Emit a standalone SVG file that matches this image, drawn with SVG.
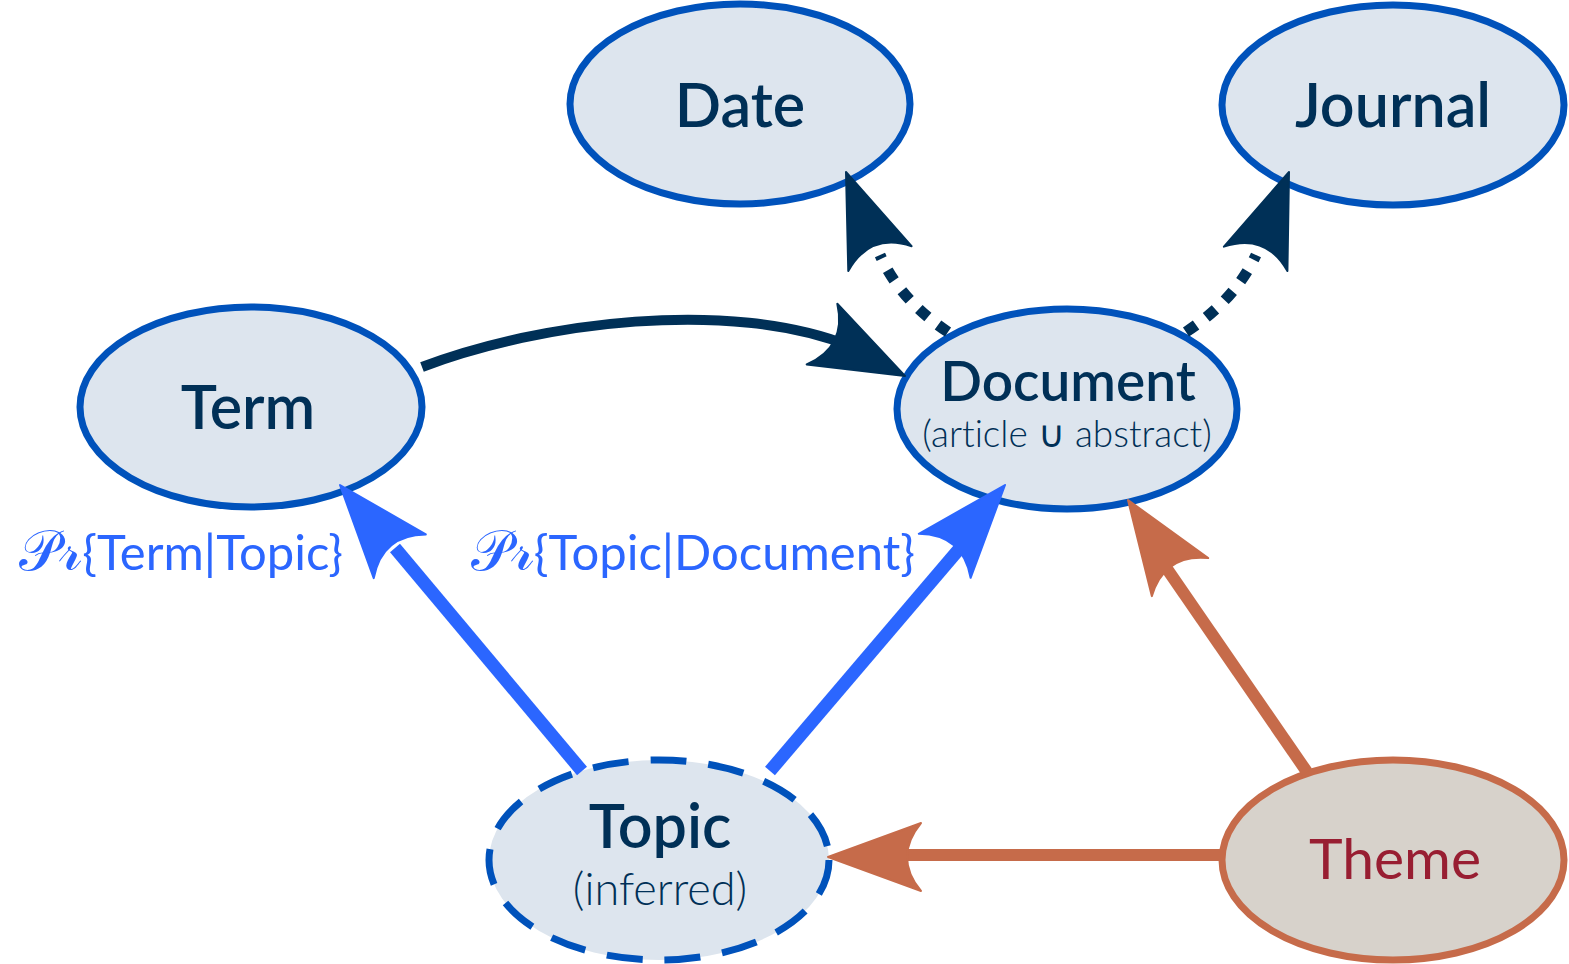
<svg xmlns="http://www.w3.org/2000/svg" width="1569" height="964" viewBox="0 0 1569 964">
<style>
.node{fill:#dde5ee;stroke:#0052bb;stroke-width:7}
.dashed{stroke-dasharray:36 22;stroke-width:7}
.theme{fill:#d7d2cb;stroke:#c66b4a;stroke-width:7}
text{font-variant-ligatures:none}
.lbl{font-family:Lato,"Open Sans",sans-serif;font-weight:600;fill:#003057;text-anchor:middle}
.sub{font-family:Lato,"Open Sans",sans-serif;font-weight:300;fill:#003057;text-anchor:middle}
.edgelbl{font-family:Lato,"Open Sans",sans-serif;font-size:49px;fill:#2b66ff;text-anchor:end}
.scr{font-family:"DejaVu Serif","DejaVu Sans","Noto Sans",serif;font-size:56px;font-weight:300}
.navy{fill:none;stroke:#003057;stroke-width:10}
.dots{fill:none;stroke:#003057;stroke-width:11;stroke-dasharray:12 13}
.blue{fill:none;stroke:#2b66ff;stroke-width:13}
.orange{fill:none;stroke:#c66b4a;stroke-width:12}
</style>
<defs>
<path id="ah" d="M0,0 L-93,-34 Q-65,0 -93,34 Z" stroke-linejoin="round"/>
</defs>
<g id="node-date"><ellipse class="node" cx="740" cy="104" rx="170" ry="100"/><text class="lbl" x="740" y="127" font-size="61">Date</text></g>
<g id="node-journal"><ellipse class="node" cx="1393" cy="105" rx="171" ry="100"/><text class="lbl" x="1393" y="127" font-size="61">Journal</text></g>
<g id="node-term"><ellipse class="node" cx="251" cy="407" rx="171" ry="100"/><text class="lbl" x="248" y="429" font-size="61">Term</text></g>
<g id="node-document"><ellipse class="node" cx="1067" cy="409" rx="170" ry="100"/><text class="lbl" x="1068" y="401" font-size="55">Document</text><text class="sub" x="1067" y="447" font-size="37">(article ∪ abstract)</text></g>
<g id="node-topic"><ellipse class="node dashed" cx="659" cy="860" rx="170" ry="100"/><text class="lbl" x="660" y="848" font-size="61">Topic</text><text class="sub" x="660" y="905" font-size="45">(inferred)</text></g>
<g id="node-theme"><ellipse class="theme" cx="1393" cy="860" rx="171" ry="100"/><text x="1395" y="879" font-size="57" font-family="Lato,'Open Sans',sans-serif" fill="#981e32" text-anchor="middle">Theme</text></g>
<g id="connectors">
<path class="navy" d="M422,367 C540,322 730,298 850,346"/>
<use href="#ah" fill="#003057" stroke="#003057" stroke-width="2" transform="translate(905,376) rotate(26.8)"/>
<path class="dots" d="M948,332 Q900,300 880,255"/>
<use href="#ah" fill="#003057" stroke="#003057" stroke-width="2" transform="translate(846,172) rotate(-111.4)"/>
<path class="dots" d="M1186,332 Q1235,300 1256,255"/>
<use href="#ah" fill="#003057" stroke="#003057" stroke-width="2" transform="translate(1289,172) rotate(-69)"/>
<path class="blue" d="M582,771 L395,548"/>
<use href="#ah" fill="#2b66ff" stroke="#2b66ff" stroke-width="2" transform="translate(340,485) rotate(-130)"/>
<path class="blue" d="M770,771 L960,548"/>
<use href="#ah" fill="#2b66ff" stroke="#2b66ff" stroke-width="2" transform="translate(1005,485) rotate(-49.6)"/>
<path class="orange" d="M1307,772 L1165,566"/>
<use href="#ah" fill="#c66b4a" stroke="#c66b4a" stroke-width="2" transform="translate(1128,500) rotate(-124)"/>
<path class="orange" d="M1222,855 L900,855"/>
<use href="#ah" fill="#c66b4a" stroke="#c66b4a" stroke-width="2" transform="translate(828,857) rotate(180)"/>
<text class="edgelbl" x="343" y="570"><tspan class="scr">𝒫𝓇</tspan>{Term|Topic}</text>
<text class="edgelbl" x="915" y="570"><tspan class="scr">𝒫𝓇</tspan>{Topic|Document}</text>
</g>
</svg>
